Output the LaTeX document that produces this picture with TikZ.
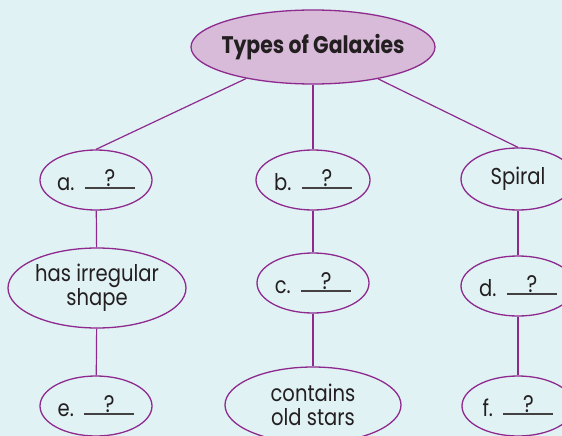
\documentclass[tikz,border=0pt]{standalone}
\usepackage{fontspec}
\setmainfont{Poppins}[FakeStretch=0.85]
\usetikzlibrary{shapes.geometric}
\definecolor{bgc}{HTML}{E1F2F5}
\definecolor{pur}{HTML}{8E2A8E}
\definecolor{topf}{HTML}{D7BBD9}
\definecolor{txt}{HTML}{231F20}
\newcommand\myblank{\makebox[50pt]{\raisebox{4pt}{\fontsize{24}{24}\selectfont ?}}\llap{\textcolor{txt!85}{\rule[1.5pt]{50pt}{1.6pt}}}}
\tikzset{
  oval/.style={ellipse, draw=pur, line width=1.3pt, fill=bgc, text=txt, inner sep=0pt, align=center, font=\fontsize{23}{24}\selectfont},
  lbl/.style={text=txt, inner sep=0pt, align=center, font=\fontsize{23}{24}\selectfont},
  conn/.style={draw=pur, line width=1.2pt}
}
\begin{document}
\begin{tikzpicture}[x=1pt,y=-1pt]
\fill[bgc] (0,0) rectangle (562,436);
\useasboundingbox (0,0) rectangle (562,436);
\begin{scope}
\clip (0,0) rectangle (562,436);
\node[oval, fill=topf, minimum width=244pt, minimum height=74pt] (top) at (313,47) {};
\node[lbl, font=\fontsize{24}{24}\selectfont\bfseries] (toplbl) at (top) {Types of Galaxies};
\node[oval, minimum width=112pt, minimum height=60pt] (a) at (96,180) {a.\ \ \myblank};
\node[oval, minimum width=114pt, minimum height=60pt] (b) at (313,180) {b.\ \ \myblank};
\node[oval, minimum width=114pt, minimum height=62pt] (sp) at (518,179) {Spiral};
\node[oval, minimum width=178pt, minimum height=80pt] (irr) at (97,288) {};
\node[lbl] (irrlbl) at (irr) {has irregular\\shape};
\node[oval, minimum width=112pt, minimum height=60pt] (c) at (313,283) {c.\ \ \myblank};
\node[oval, minimum width=114pt, minimum height=60pt] (d) at (518,286) {d.\ \ \myblank};
\node[oval, minimum width=112pt, minimum height=60pt] (e) at (96,406) {e.\ \ \myblank};
\node[oval, minimum width=176pt, minimum height=76pt] (cont) at (313,405) {};
\node[lbl] (contlbl) at (cont) {contains\\old stars};
\node[oval, minimum width=112pt, minimum height=60pt] (f) at (518,406) {f.\ \ \myblank};
\end{scope}
\draw[conn] (top) -- (a.north);
\draw[conn] (top) -- (b.north);
\draw[conn] (top) -- (sp.north);
\draw[conn] (a) -- (irr);
\draw[conn] (irr) -- (e);
\draw[conn] (b) -- (c);
\draw[conn] (c) -- (cont);
\draw[conn] (sp.south) -- (sp.south |- d.north);
\draw[conn] (d.south) -- (d.south |- f.north);
\end{tikzpicture}
\end{document}
